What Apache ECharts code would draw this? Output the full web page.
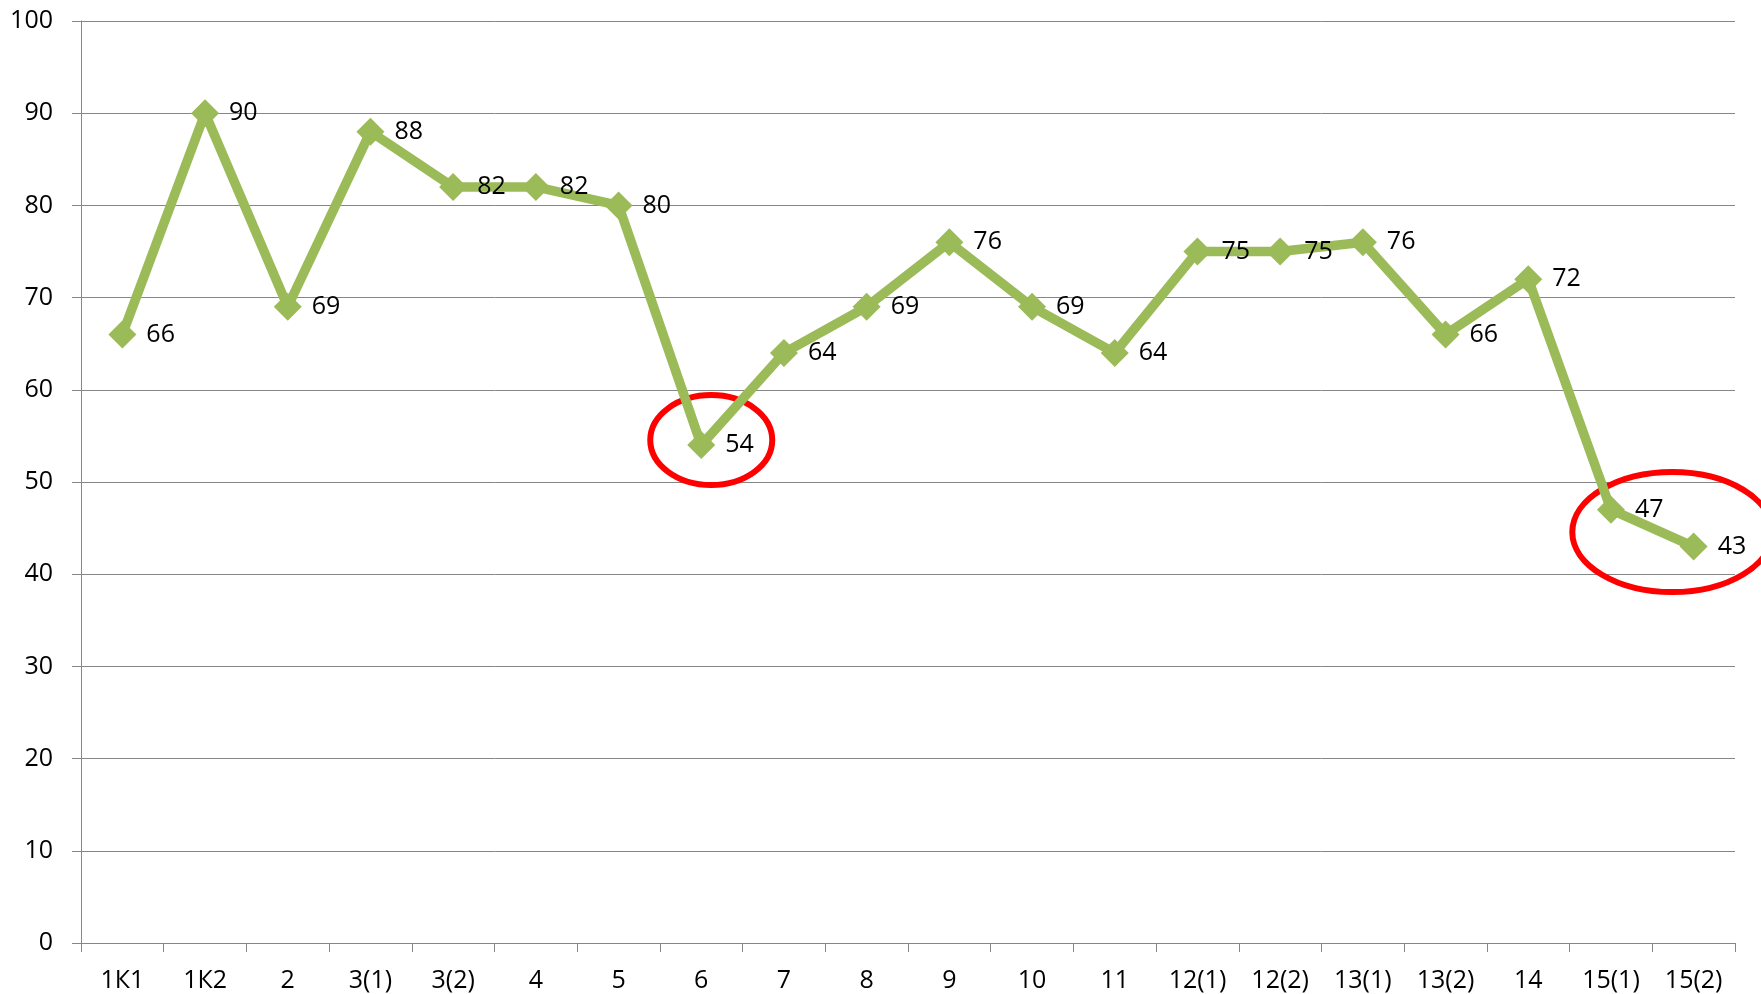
<!DOCTYPE html>
<html>
<head>
<meta charset="utf-8">
<script src="https://cdn.jsdelivr.net/npm/echarts@6/dist/echarts.min.js"></script>
<style>
    html, body { margin: 0; padding: 0; background: #fff; }
    #chart { width: 1761px; height: 994px; }
</style>
</head>
<body>
<div id="chart"></div>
<script>
const categories = ['1К1', '1К2', '2', '3(1)', '3(2)', '4', '5', '6', '7', '8',
    '9', '10', '11', '12(1)', '12(2)', '13(1)', '13(2)', '14', '15(1)', '15(2)'];
const values = [66, 90, 69, 88, 82, 82, 80, 54, 64, 69, 76, 69, 64, 75, 75, 76, 66, 72, 47, 43];
const yTicks = { min: 0, max: 100, interval: 10 };
// highlighted points (category index) for the red rings
const ringSingle = 7;
const ringPair = [18, 19];

const font = '"Open Sans", "Noto Sans", sans-serif';
const gray = '#868686';

const chart = echarts.init(document.getElementById('chart'));
chart.setOption({
    animation: false,
    grid: { left: 81, right: 26, top: 21, bottom: 51 },
    xAxis: {
        type: 'category',
        data: categories,
        boundaryGap: true,
        axisLine: { lineStyle: { color: gray, width: 1 } },
        axisTick: { show: true, length: 9, lineStyle: { color: gray } },
        axisLabel: { color: '#000', fontFamily: font, fontSize: 25, margin: 25, interval: 0 },
        splitLine: { show: false }
    },
    yAxis: {
        type: 'value',
        min: yTicks.min,
        max: yTicks.max,
        interval: yTicks.interval,
        axisLine: { show: true, lineStyle: { color: gray, width: 1 } },
        axisTick: { show: true, length: 9, lineStyle: { color: gray } },
        axisLabel: { color: '#000', fontFamily: font, fontSize: 25, margin: 28 },
        splitLine: { show: true, lineStyle: { color: gray, width: 1 } }
    },
    series: [{
        type: 'line',
        data: values,
        symbol: 'diamond',
        symbolSize: 28,
        lineStyle: { color: '#9bbb59', width: 9.5 },
        itemStyle: { color: '#9bbb59' },
        label: {
            show: true,
            position: 'right',
            distance: 10,
            color: '#000',
            fontFamily: font,
            fontSize: 25
        },
        z: 3
    }]
});

// red rings around the weak results, placed from the data points
function ring(cx, cy, rx, ry) {
    return {
        type: 'ellipse',
        shape: { cx: cx, cy: cy, rx: rx, ry: ry },
        style: { fill: null, stroke: '#ff0000', lineWidth: 6 },
        z: 1
    };
}
const p1 = chart.convertToPixel({ seriesIndex: 0 }, [ringSingle, values[ringSingle]]);
const pa = chart.convertToPixel({ seriesIndex: 0 }, [ringPair[0], values[ringPair[0]]]);
const pb = chart.convertToPixel({ seriesIndex: 0 }, [ringPair[1], values[ringPair[1]]]);
chart.setOption({
    graphic: [
        ring(p1[0] + 10, p1[1] - 5, 61, 45),
        ring((pa[0] + pb[0]) / 2 + 20, (pa[1] + pb[1]) / 2 + 4, 100, 60)
    ]
});
</script>
</body>
</html>
